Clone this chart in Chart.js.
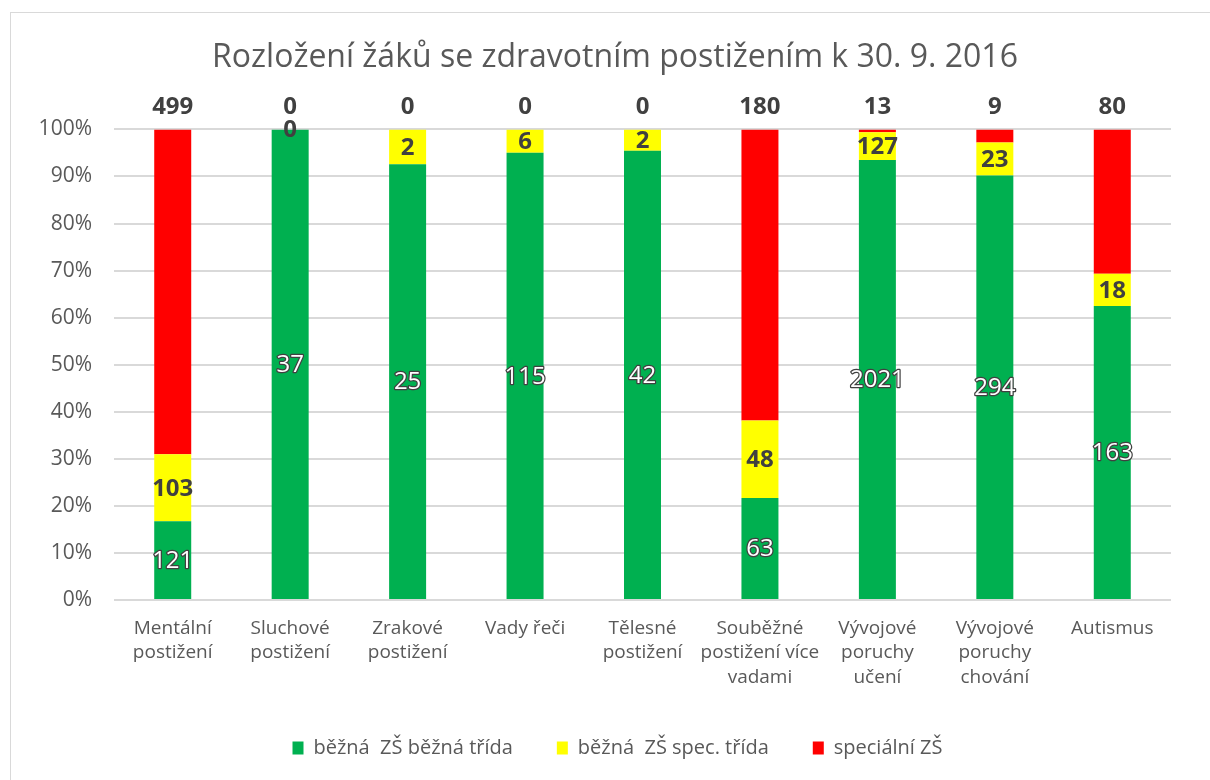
<!DOCTYPE html>
<html>
<head>
<meta charset="utf-8">
<script src="https://cdn.jsdelivr.net/npm/chart.js@4.4.1/dist/chart.umd.min.js"></script>
<style>
  html, body { margin: 0; padding: 0; background: #ffffff; }
  #wrap { position: absolute; left: 0; top: 0; width: 1210px; height: 780px; overflow: hidden; }
  #frame { position: absolute; left: 10px; top: 12px; width: 1220px; height: 800px; border: 1px solid #d9d9d9; box-sizing: border-box; }
  canvas { position: absolute; left: 0; top: 0; }
</style>
</head>
<body>
<div id="wrap">
  <div id="frame"></div>
  <canvas id="c" width="1210" height="780"></canvas>
</div>
<script>
const categories = [
  ['Mentální', 'postižení'],
  ['Sluchové', 'postižení'],
  ['Zrakové', 'postižení'],
  ['Vady řeči'],
  ['Tělesné', 'postižení'],
  ['Souběžné', 'postižení více', 'vadami'],
  ['Vývojové', 'poruchy', 'učení'],
  ['Vývojové', 'poruchy', 'chování'],
  ['Autismus']
];
const seriesNames = ['běžná  ZŠ běžná třída', 'běžná  ZŠ spec. třída', 'speciální ZŠ'];
const bezneTridy = [121, 37, 25, 115, 42, 63, 2021, 294, 163];
const specTridy = [103, 0, 2, 6, 2, 48, 127, 23, 18];
const specialniZS = [499, 0, 0, 0, 0, 180, 13, 9, 80];
const title = 'Rozložení žáků se zdravotním postižením k 30. 9. 2016';
const yTicks = [0, 10, 20, 30, 40, 50, 60, 70, 80, 90, 100];

const counts = [bezneTridy, specTridy, specialniZS];
const totals = bezneTridy.map((v, i) => v + specTridy[i] + specialniZS[i]);
const pct = arr => arr.map((v, i) => v / totals[i] * 100);

const TEXT = '#595959';
const FONT = "'Open Sans', 'Noto Sans', sans-serif";

// centre the title and legend on the framed chart (which starts at x=10), not on the canvas
const recentre = {
  id: 'recentre',
  afterLayout(chart) {
    if (chart.titleBlock) { chart.titleBlock.left += 39; }
    if (chart.legend) { chart.legend.left += 44; }
  }
};

const labelPlugin = {
  id: 'segLabels',
  afterDatasetsDraw(chart) {
    const ctx = chart.ctx;
    ctx.save();
    ctx.textAlign = 'center';
    ctx.textBaseline = 'middle';
    chart.data.datasets.forEach((ds, di) => {
      const meta = chart.getDatasetMeta(di);
      meta.data.forEach((bar, j) => {
        const txt = String(counts[di][j]);
        const cy = (bar.y + bar.base) / 2 + 1;
        if (di === 2) {
          ctx.font = "bold 24px " + FONT;
          ctx.fillStyle = '#404040';
          ctx.fillText(txt, bar.x, Math.min(bar.y, bar.base) - 22);
        } else if (di === 1) {
          ctx.font = "bold 24px " + FONT;
          ctx.fillStyle = '#404040';
          ctx.fillText(txt, bar.x, cy);
        } else {
          ctx.font = "24px " + FONT;
          ctx.lineWidth = 2.5;
          ctx.lineJoin = 'round';
          ctx.strokeStyle = '#404040';
          ctx.strokeText(txt, bar.x, cy);
          ctx.fillStyle = '#ffffff';
          ctx.fillText(txt, bar.x, cy);
        }
      });
    });
    ctx.restore();
  }
};

new Chart(document.getElementById('c'), {
  type: 'bar',
  data: {
    labels: categories,
    datasets: [
      { label: seriesNames[0], data: pct(bezneTridy), backgroundColor: '#00B050' },
      { label: seriesNames[1], data: pct(specTridy), backgroundColor: '#FFFF00' },
      { label: seriesNames[2], data: pct(specialniZS), backgroundColor: '#FF0000' }
    ]
  },
  options: {
    responsive: false,
    animation: false,
    devicePixelRatio: 1,
    layout: { padding: { left: 20, right: 39, top: 39, bottom: 12 } },
    datasets: { bar: { barPercentage: 0.315, categoryPercentage: 1.0, borderWidth: 0 } },
    scales: {
      x: {
        stacked: true,
        grid: { display: false, drawTicks: false },
        border: { display: false },
        afterFit: s => { s.height = 94; },
        ticks: { color: TEXT, font: { family: FONT, size: 19, lineHeight: 1.29 }, padding: 16, maxRotation: 0, autoSkip: false }
      },
      y: {
        stacked: true,
        min: 0, max: 100,
        afterBuildTicks: s => { s.ticks = yTicks.map(v => ({ value: v })); },
        afterFit: s => { s.width = 94; },
        grid: { color: '#d9d9d9', lineWidth: 2, drawTicks: false },
        border: { display: false },
        ticks: { color: TEXT, font: { family: FONT, size: 21 }, padding: 22, callback: v => v + '%' }
      }
    },
    plugins: {
      title: {
        display: true, text: title, color: TEXT,
        font: { family: FONT, size: 32, weight: 'normal', lineHeight: 1.2 },
        padding: { top: 0, bottom: 52 }
      },
      legend: {
        position: 'bottom',
        labels: { color: TEXT, font: { family: FONT, size: 20 }, boxWidth: 11, boxHeight: 13, padding: 44 }
      },
      tooltip: { enabled: false }
    }
  },
  plugins: [recentre, labelPlugin]
});
</script>
</body>
</html>
